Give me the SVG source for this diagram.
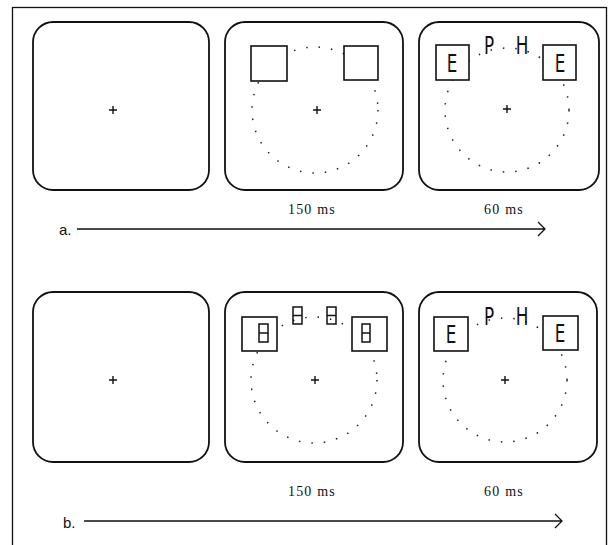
<svg xmlns="http://www.w3.org/2000/svg" width="615" height="545" viewBox="0 0 615 545">
<style>
.frame{fill:none;stroke:#111;stroke-width:1.3}
.panel{fill:#fff;stroke:#111;stroke-width:1.8}
.box{fill:#fff;stroke:#111;stroke-width:1.6}
.ring{fill:none;stroke:#222;stroke-width:1.5;stroke-dasharray:1.5 11}
.fix{stroke:#111;stroke-width:1.4}
.let{font-family:"DejaVu Sans",sans-serif;font-size:24px;font-weight:normal;fill:#111;text-anchor:middle}
.mask{fill:none;stroke:#111;stroke-width:1.5}
.dur{font-family:"Liberation Serif",serif;font-size:14px;fill:#111;text-anchor:middle;letter-spacing:1.2px}
.lab{font-family:"Liberation Sans",sans-serif;font-size:15px;fill:#111}
.arr{fill:none;stroke:#111;stroke-width:1.3}
</style>
<rect class="frame" x="12.5" y="7.5" width="594" height="560"/>

<g id="a1">
<rect class="panel" x="33" y="22" width="176" height="168" rx="20"/>
<path class="fix" d="M109 110h8M113 106v8"/>
</g>
<g id="a2">
<rect class="panel" x="225" y="22" width="178" height="168" rx="20"/>
<circle class="ring" cx="315" cy="110" r="63"/>
<rect class="box" x="251" y="46" width="36" height="35"/>
<rect class="box" x="344" y="46" width="34" height="34"/>
<path class="fix" d="M313 110h8M317 106v8"/>
</g>
<g id="a3">
<rect class="panel" x="419" y="22" width="180" height="168" rx="20"/>
<circle class="ring" cx="507" cy="110" r="62"/>
<rect class="box" x="436" y="45" width="33" height="35"/>
<rect class="box" x="543" y="45" width="33" height="35"/>
<text class="let" transform="translate(452,72) scale(0.7,1)">E</text>
<text class="let" transform="translate(560,72) scale(0.7,1)">E</text>
<text class="let" transform="translate(489,54) scale(0.7,1)">P</text>
<text class="let" transform="translate(522,54) scale(0.7,1)">H</text>
<path class="fix" d="M503 109h8M507 105v8"/>
</g>
<text class="dur" x="312" y="214">150 ms</text>
<text class="dur" x="504" y="214">60 ms</text>
<text class="lab" x="59" y="235">a.</text>

<g id="b1">
<rect class="panel" x="33" y="292" width="176" height="170" rx="20"/>
<path class="fix" d="M109 380h8M113 376v8"/>
</g>
<g id="b2">
<rect class="panel" x="225" y="292" width="178" height="170" rx="20"/>
<circle class="ring" cx="314" cy="380" r="63"/>
<rect class="box" x="242" y="317" width="35" height="34"/>
<rect class="box" x="352" y="317" width="35" height="34"/>
<rect class="mask" x="259" y="324" width="9" height="18"/><path class="mask" d="M259 333h9"/>
<rect class="mask" x="362" y="324" width="8" height="18"/><path class="mask" d="M362 333h8"/>
<rect class="mask" x="293" y="307" width="9" height="17"/><path class="mask" d="M293 315.5h9"/>
<rect class="mask" x="327" y="307" width="9" height="17"/><path class="mask" d="M327 315.5h9"/>
<path class="fix" d="M311 380h8M315 376v8"/>
</g>
<g id="b3">
<rect class="panel" x="419" y="292" width="178" height="170" rx="20"/>
<circle class="ring" cx="505" cy="380" r="62"/>
<rect class="box" x="434" y="317" width="34" height="34"/>
<rect class="box" x="543" y="316" width="35" height="34"/>
<text class="let" transform="translate(451,343) scale(0.7,1)">E</text>
<text class="let" transform="translate(560,342) scale(0.7,1)">E</text>
<text class="let" transform="translate(489,325) scale(0.7,1)">P</text>
<text class="let" transform="translate(522,325) scale(0.7,1)">H</text>
<path class="fix" d="M501 380h8M505 376v8"/>
</g>
<text class="dur" x="312" y="496">150 ms</text>
<text class="dur" x="504" y="496">60 ms</text>
<text class="lab" x="63" y="528">b.</text>

<g id="connectors">
<path class="arr" d="M77 229H545M538 222l7 7-7 7"/>
<path class="arr" d="M84 521H562M555 514l7 7-7 7"/>
</g>
</svg>
